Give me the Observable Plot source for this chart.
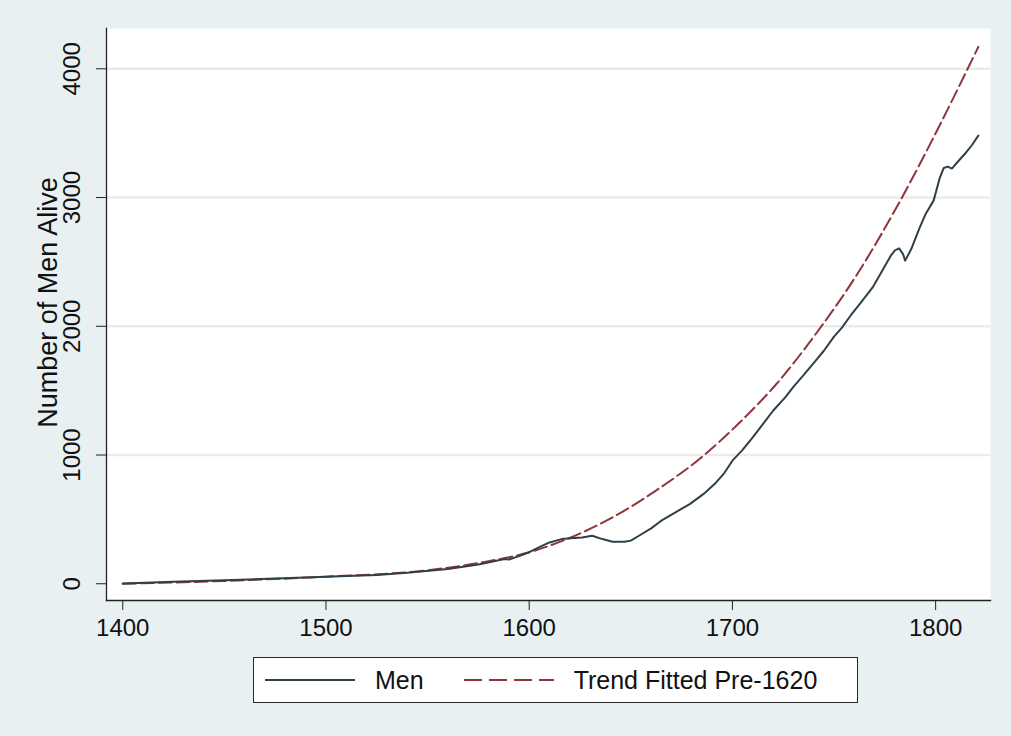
<!DOCTYPE html>
<html><head><meta charset="utf-8">
<script src="https://cdn.jsdelivr.net/npm/d3@7"></script>
<script src="https://cdn.jsdelivr.net/npm/@observablehq/plot@0.6"></script>
<style>
body{margin:0;background:#e8f0f2;font-family:"Liberation Sans",Arial,sans-serif;}
#wrap{position:relative;width:1011px;height:736px;overflow:hidden;}
#legend{position:absolute;left:253px;top:657px;width:603px;height:44px;border:1.5px solid #2a2a2a;background:#fff;display:flex;align-items:center;font-size:25px;color:#111;}
#legend svg{display:block;}
</style></head><body>
<div id="wrap"><div id="chart"></div>
<div id="legend">
<svg width="90" height="6" style="margin-left:11px"><line x1="0" x2="90" y1="3" y2="3" stroke="#2f4048" stroke-width="2"/></svg>
<span id="lab0" style="margin-left:20px"></span>
<svg width="90" height="6" style="margin-left:40px"><line x1="0" x2="90" y1="3" y2="3" stroke="#90353b" stroke-width="2" stroke-dasharray="18,7"/></svg>
<span id="lab1" style="margin-left:20px"></span>
</div></div>
<script>
const menYears = [1400,1425,1450,1475,1500,1525,1540,1560,1575,1585,1588,1590,1595,1600,1605,1610,1616,1622,1626,1631,1636,1641,1647,1650,1654,1660,1665,1672,1679,1686,1692,1696,1700,1705,1710,1715,1720,1726,1730,1735,1741,1745,1750,1754,1758,1763,1769,1774,1778,1780,1782,1784,1785,1788,1792,1795,1799,1802,1804,1806,1808,1811,1815,1818,1821];
const menValues = [3,15,28,40,55,68,85,115,150,182,192,188,215,245,285,321,347,355,360,373,347,326,326,335,373,430,490,555,619,700,787,860,956,1040,1137,1240,1344,1448,1530,1620,1733,1810,1920,1992,2080,2180,2302,2440,2550,2590,2605,2560,2510,2600,2760,2870,2976,3150,3230,3240,3225,3280,3350,3410,3481];
const trendYears = [1400,1450,1500,1550,1580,1600,1628,1646,1662,1685,1705,1721,1741,1760,1781,1801,1821];
const trendValues = [0,22,55,105,175,245,412,560,720,985,1275,1540,1940,2370,2930,3530,4170];
const xTicks = [1400,1500,1600,1700,1800];
const yTicks = [0,1000,2000,3000,4000];
const gridTicks = [1000,2000,3000,4000];
const seriesLabels = ["Men","Trend Fitted Pre-1620"];
const yTitle = "Number of Men Alive";

const men = menYears.map((year,i)=>({year, value: menValues[i]}));
const trend = trendYears.map((year,i)=>({year, value: trendValues[i]}));
document.getElementById("lab0").textContent = seriesLabels[0];
document.getElementById("lab1").textContent = seriesLabels[1];

const chart = Plot.plot({
  width: 1011, height: 650,
  marginLeft: 106, marginRight: 21, marginTop: 28, marginBottom: 50,
  style: {background: "transparent", fontFamily: "Liberation Sans, Arial, sans-serif", fontSize: "24px", color: "#111"},
  x: {domain: [1392, 1827]},
  y: {domain: [-130, 4313]},
  marks: [
    Plot.frame({fill: "white", stroke: "none"}),
    Plot.gridY(gridTicks, {stroke: "#ebebeb", strokeOpacity: 1, strokeWidth: 2.5}),
    Plot.line(trend, {x: "year", y: "value", stroke: "#90353b", strokeWidth: 2, strokeDasharray: "13,5", curve: "monotone-x"}),
    Plot.line(men, {x: "year", y: "value", stroke: "#2f4048", strokeWidth: 2}),
    Plot.frame({anchor: "left", stroke: "#222", strokeWidth: 1.3}),
    Plot.frame({anchor: "bottom", stroke: "#222", strokeWidth: 1.3}),
    Plot.axisY(yTicks, {tickSize: 10, tickRotate: -90, tickPadding: 17, tickFormat: "d", label: null, stroke: "#222"}),
    Plot.axisX(xTicks, {tickSize: 10, tickPadding: 8, tickFormat: "d", label: null, stroke: "#222"}),
    Plot.text([yTitle], {text: d => d, frameAnchor: "left", dx: -50, dy: -12, rotate: -90, textAnchor: "middle", lineAnchor: "bottom", fontSize: 27})
  ]
});
document.getElementById("chart").appendChild(chart);
</script>
</body></html>
